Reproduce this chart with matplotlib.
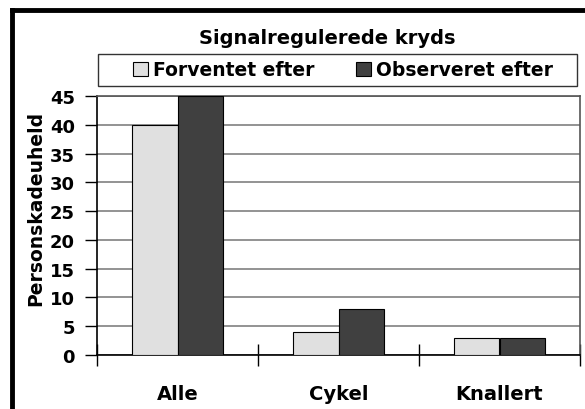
import numpy as np
import matplotlib.pyplot as plt
from matplotlib.patches import Rectangle
from matplotlib.lines import Line2D

# data
categories = ["Alle", "Cykel", "Knallert"]
forventet = [40, 4, 3]
observeret = [45, 8, 3]
series_names = ["Forventet efter", "Observeret efter"]
yticks = list(range(0, 50, 5))

plt.rcParams["font.family"] = ["DejaVu Sans"]
plt.rcParams["font.weight"] = "bold"

W, H = 585, 410
fig = plt.figure(figsize=(W / 100, H / 100), dpi=100)
ax = fig.add_axes([97 / W, 1 - 356 / H, (580 - 97) / W, (356 - 97) / H])

x = np.arange(len(categories))
bw = 0.28
b1 = ax.bar(x - bw / 2, forventet, bw, color="#e0e0e0", edgecolor="black", linewidth=0.8,
            label=series_names[0], zorder=3)
b2 = ax.bar(x + bw / 2, observeret, bw, color="#404040", edgecolor="black", linewidth=0.8,
            label=series_names[1], zorder=3)

ax.set_xlim(-0.5, 2.5)
ax.set_ylim(0, 45)
ax.set_yticks(yticks)
ax.set_yticklabels([str(v) for v in yticks], fontsize=13, fontweight="bold")
ax.yaxis.grid(True, color="#808080", linewidth=1.2, zorder=0)
ax.set_axisbelow(True)

ax.set_xticks(x)
ax.set_xticklabels(categories, fontsize=14, fontweight="bold")
ax.tick_params(axis="x", which="major", length=0, pad=21)
ax.set_xticks([-0.5, 0.5, 1.5, 2.5], minor=True)
ax.tick_params(axis="x", which="minor", length=16, width=1, color="black", direction="inout")
ax.tick_params(axis="y", length=9, width=1, color="black", direction="out", pad=7)

ax.spines["left"].set_color("black")
ax.spines["bottom"].set_color("black")
ax.spines["top"].set_color("#555555")
ax.spines["right"].set_color("#555555")
for s in ax.spines.values():
    s.set_linewidth(1.2)

# y label
fig.text(36 / W, 1 - 208 / H, "Personskadeuheld", rotation=90, ha="center", va="center",
         fontsize=13.5, fontweight="bold")

fig.text(327 / W, 1 - 38 / H, "Signalregulerede kryds", ha="center", va="center",
         fontsize=14, fontweight="bold")

# legend box
fig.patches.append(Rectangle((98 / W, 1 - 87 / H), 479 / W, 32 / H, transform=fig.transFigure,
                             facecolor="white", edgecolor="#333333", linewidth=1.0))
fig.legend(handles=[b1, b2], loc="center", bbox_to_anchor=(343 / W, 1 - 71 / H),
           ncol=2, frameon=False, prop={"size": 13.5, "weight": "bold"},
           handlelength=0.8, handleheight=0.8, handletextpad=0.3, columnspacing=2.2)

# outer frame (cropped on right and bottom)
fig.add_artist(Line2D([11.5 / W, 1.0], [1 - 11 / H, 1 - 11 / H], transform=fig.transFigure,
                      color="black", linewidth=3.5))
fig.add_artist(Line2D([11.5 / W, 11.5 / W], [0, 1 - 11 / H], transform=fig.transFigure,
                      color="black", linewidth=3.5))

fig.savefig("out.png", dpi=100)
